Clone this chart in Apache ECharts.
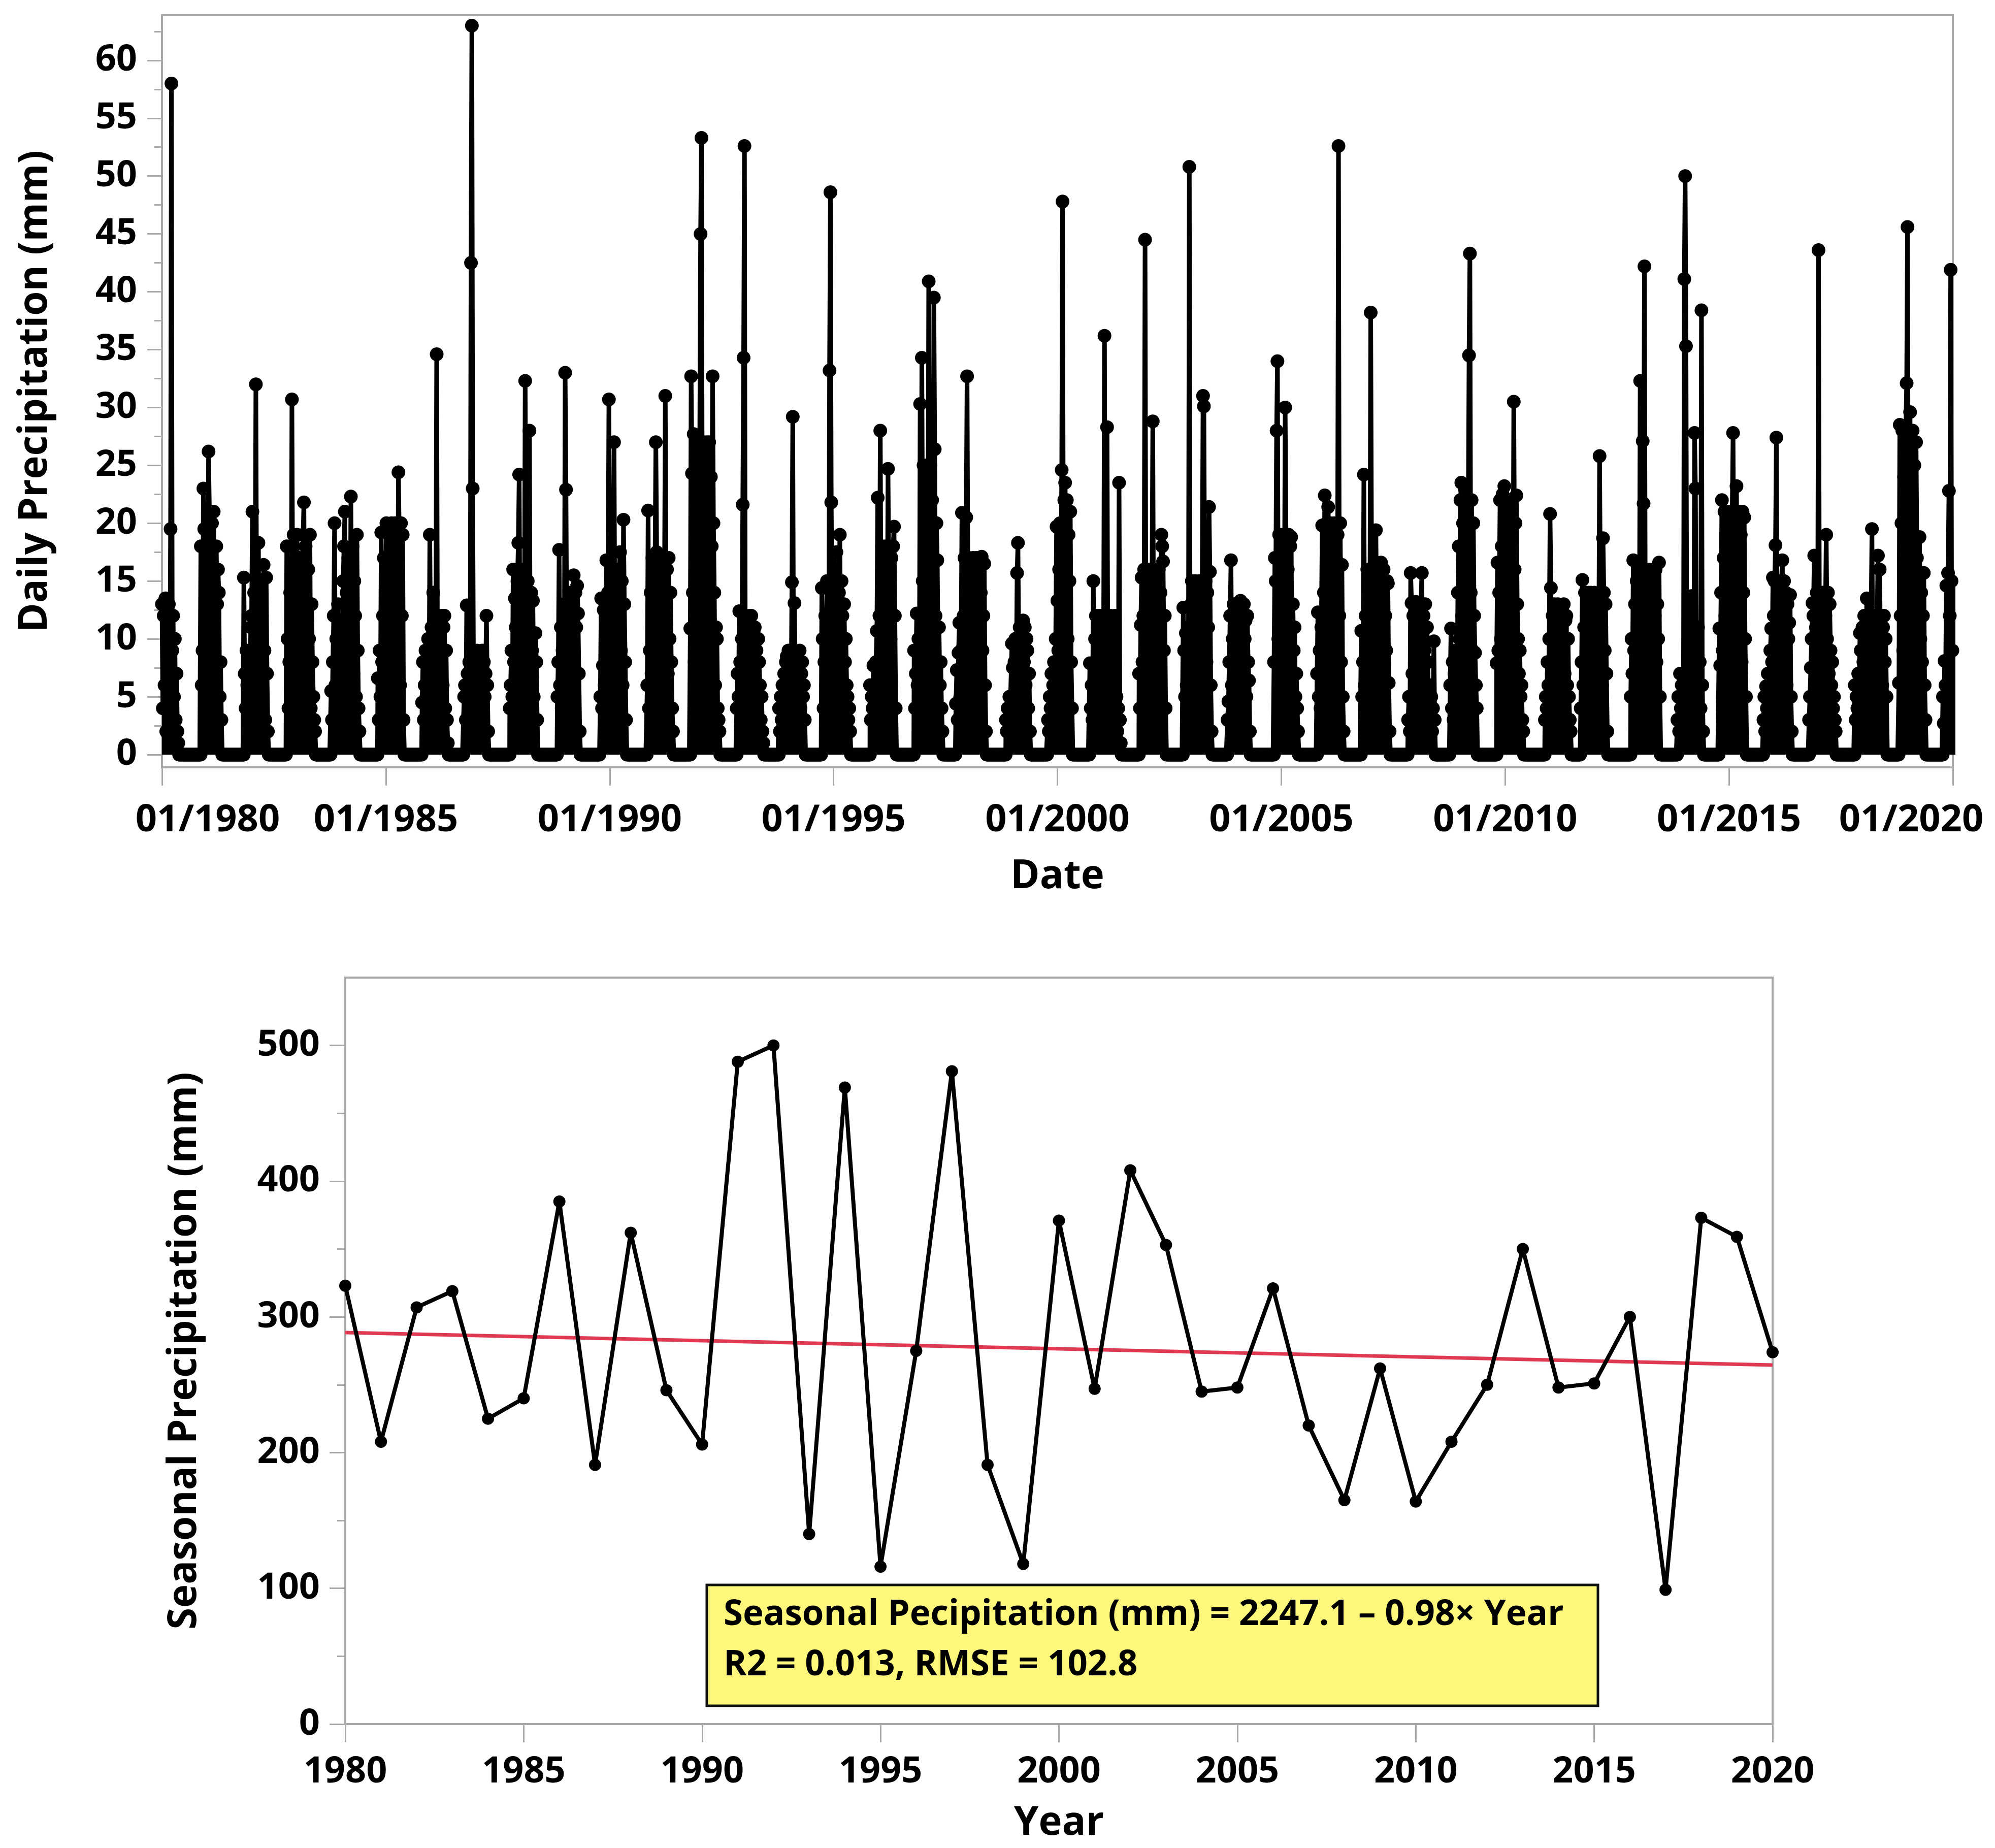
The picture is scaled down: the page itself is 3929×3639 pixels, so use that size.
<!DOCTYPE html>
<html>
<head>
<meta charset="utf-8">
<title>Daily and seasonal precipitation</title>
<script src="https://cdn.jsdelivr.net/npm/echarts@6.0.0/dist/echarts.min.js"></script>
<style>
  html, body { margin: 0; padding: 0; background: #fff; }
  #main { width: 3929px; height: 3639px; }
</style>
</head>
<body>
<div id="main"></div>
<script>
// top panel: one list per wet season, values (mm) every 7 days from the season start
const seasonStart = [
  '1980-01-01', '1980-11-13', '1981-10-30', '1982-10-15', '1983-10-12', '1984-10-27',
  '1985-10-23', '1986-10-01', '1987-10-08', '1988-10-31', '1989-10-16', '1990-11-03',
  '1991-10-20', '1992-11-02', '1993-10-13', '1994-09-27', '1995-10-25', '1996-10-19',
  '1997-09-25', '1998-11-07', '1999-10-16', '2000-09-22', '2001-10-28', '2002-10-24',
  '2003-10-20', '2004-11-02', '2005-10-19', '2006-10-15', '2007-11-01', '2008-10-09',
  '2009-10-23', '2010-11-21', '2011-09-09', '2012-10-21', '2013-11-06', '2014-10-14',
  '2015-10-09', '2016-10-15', '2017-10-23', '2018-10-18', '2019-10-12'
]
const seasonRain = [
  [13, 4, 12, 6, 13.5, 2, 11, 8, 13, 3, 19.5, 58, 9, 12, 5, 10, 3, 7, 2, 1],
  [18, 6, 9, 23, 19.5, 8, 15, 4, 12, 26.2, 21, 3, 14, 20, 7, 21, 10, 2, 18, 13, 16, 14, 5, 8, 3],
  [15.3, 7, 4, 9, 6, 3, 8, 5, 11, 12, 21, 6, 14, 9, 32, 10, 13, 18.3, 4, 15, 8, 12, 5, 16.4, 9, 3, 15.3, 7, 2],
  [18, 10, 4, 8, 14, 6, 30.7, 12, 19, 5, 16, 9, 19, 13, 7, 17, 11, 3, 15, 19, 21.8, 8, 18, 12, 6, 16, 10, 19, 4, 13, 8, 5, 3, 2],
  [5.5, 3, 8, 12, 20, 6, 10, 4, 13, 7, 11, 5, 9, 9.5, 15, 18, 21, 4, 14, 8, 17, 11, 6, 22.3, 10, 18, 7, 15, 12, 5, 19, 9, 4, 2],
  [6.6, 3, 9, 5, 19.2, 8, 12, 17, 4, 14, 20, 9, 16, 7, 19, 11, 20, 5, 15, 13, 20, 8, 18, 10, 24.4, 19, 6, 20, 12, 19, 3],
  [4.5, 8, 3, 6, 9, 5, 7, 10, 4, 19, 8, 11, 6, 14, 9, 3, 11, 34.6, 7, 10, 5, 11, 8, 12, 6, 11, 12, 4, 9, 3, 1],
  [5, 6, 3, 12.9, 7, 4, 8, 5, 42.5, 63, 23, 6, 8, 3, 7, 9, 5, 8, 2, 7, 6, 9, 4, 8, 5, 7, 12, 6, 2],
  [4, 6, 9, 5, 16, 8, 13.5, 11, 6, 15, 18.3, 24.2, 9, 14, 12, 7, 16, 10, 32.3, 13, 8, 15, 11, 28, 6, 14, 9, 13.3, 5, 8, 10.5, 8, 3],
  [5, 8, 17.7, 6, 11, 4, 9, 13, 7, 33, 22.9, 8, 12, 5, 14, 10, 6, 13, 9, 15.5, 7, 14, 11, 14.6, 12.2, 7, 2],
  [5, 13.5, 4, 7.7, 12.5, 6, 9, 16.8, 11, 14, 30.7, 8, 16, 12, 5, 15, 27, 10, 16, 7, 14, 12, 16, 17.5, 9, 15, 6, 20.3, 13, 8, 3],
  [6, 21.1, 4, 9, 14, 7, 17, 10, 5, 16, 27, 17.5, 8, 13, 17, 6, 15, 11, 17, 9, 14, 31, 12, 16, 7, 17, 10, 14, 8, 4, 2],
  [10.9, 32.7, 24.3, 14, 27.7, 8, 23, 15, 26, 11, 19, 27, 45, 53.3, 20, 27, 9, 25, 16, 27, 12, 22, 27, 7, 24, 18, 32.7, 20, 14, 6, 11, 10, 4, 3, 2],
  [4, 7, 5, 12.4, 8, 3, 10, 21.6, 34.3, 52.6, 6, 11, 9, 4, 10, 12, 7, 12, 5, 9, 10.8, 11, 6, 9, 4, 10, 8, 6, 3, 5, 2, 1],
  [4, 2, 5, 3, 6, 4, 7, 5, 8, 8.5, 3, 9, 6, 8, 4, 14.9, 29.2, 6, 13.1, 7, 8, 5, 8, 6, 9, 4, 7, 8, 5, 6, 3],
  [14.4, 10, 4, 8, 12, 6, 15, 9, 5, 33.2, 48.6, 21.8, 11, 15, 7, 13, 10, 17.5, 15, 6, 14, 19, 9, 15, 12, 4, 13, 8, 10, 6, 5, 3, 4, 2],
  [6, 3, 5, 4, 7.7, 6, 3, 8, 10.7, 22.2, 7, 12, 28, 9, 18, 11, 16, 6, 18, 13, 8, 24.7, 15, 18, 10, 17, 12, 18, 19.7, 12, 4],
  [9, 4, 7, 12.2, 6, 10, 5, 30.3, 12, 34.3, 15, 25, 8, 20, 13, 25, 11, 40.9, 18, 25, 9, 22, 14, 39.5, 26.4, 12, 20, 16.8, 8, 11, 6, 8, 4, 2],
  [4.4, 7.3, 3, 8.8, 11.4, 5, 9, 20.9, 6, 12, 17, 8, 20.5, 32.7, 14, 17, 9, 16, 12, 6, 17, 11, 15, 8, 17, 13, 5, 16, 10, 14, 17.1, 9, 12, 16.5, 6, 2],
  [3, 2, 4, 3, 5, 4, 4, 9.6, 7.5, 5, 8, 10, 6, 15.7, 18.3, 9, 11, 7, 10, 5, 11.6, 8, 11, 6, 10, 9, 4, 7, 2],
  [3, 2, 5, 4, 7, 3, 6, 8, 5, 10, 19.7, 13.3, 9, 16, 20, 12, 24.6, 47.8, 14, 22, 23.5, 17, 22, 10, 19, 15, 21, 8, 4],
  [7.9, 4, 6, 3, 15, 5, 10, 12, 6, 11, 8, 12, 4, 9, 12, 7, 11, 36.2, 9, 12, 28.3, 6, 11, 8, 12, 5, 10, 4, 7, 12, 3, 5, 2, 4, 23.5, 3, 1],
  [7, 4, 11.2, 15.3, 8, 12, 16, 44.5, 10, 14, 6, 16, 11, 15, 7, 13, 28.8, 9, 16, 12, 5, 15, 10, 16, 8, 14, 19, 18, 16.7, 9, 12, 4],
  [12.7, 9, 5, 10.5, 6, 8, 11, 50.8, 7, 13, 15, 6, 12, 9, 15, 4, 14, 11, 8, 15, 10, 6, 14, 31, 30.1, 12, 15, 8, 14, 11, 21.4, 15.8, 6, 2],
  [3, 4.6, 8, 12, 16.8, 6, 10, 13, 5, 11, 13, 8, 12, 6, 13, 13.3, 9.6, 12, 7, 13, 10, 11.6, 5, 12, 8, 6.4, 2],
  [8, 17, 15, 28, 34, 10, 19, 6, 14, 19, 9, 17, 12, 30, 19, 8, 16, 19, 11, 18, 18.8, 7, 13, 9, 11, 5, 7, 4, 2],
  [7, 12.3, 5, 9, 4, 11, 19.8, 8, 14, 22.4, 12, 20, 9, 21.4, 15, 7, 20, 11, 18, 6, 20, 13, 17, 9, 19, 52.6, 12, 20, 8, 16.4, 5, 2],
  [10.7, 5, 8, 24.2, 6, 12, 9, 16, 4, 14, 11, 38.2, 16, 8, 13, 16, 6, 19.4, 12, 15, 9, 16, 7, 16.6, 13, 10, 16, 5, 12, 9, 15, 14.8, 6.2, 2],
  [3, 5, 2, 15.7, 13.1, 7, 12, 5, 10, 13.2, 8, 12, 4, 11, 9, 13, 15.7, 6, 12, 9, 13, 5, 11, 8, 4, 6, 3, 5, 2, 4, 9.8, 3],
  [6, 10.9, 4, 8, 3, 7, 5, 9, 6, 14, 18, 10, 22, 23.5, 12, 20, 8, 23, 16, 22, 11, 19, 34.5, 43.3, 14, 22, 9, 20, 12, 8.8, 6, 4],
  [7.9, 16.6, 9, 14, 22, 10, 18, 22.5, 12, 23.2, 15, 8, 21, 13, 22, 9, 18, 14, 22, 11, 30.5, 16, 20, 22.4, 13, 10, 7, 9, 5, 6, 3, 2],
  [3, 5, 4, 8, 6, 10, 20.8, 14.4, 7, 12, 9, 13, 5, 11, 8, 13, 6, 12, 10, 4, 12.7, 9, 13, 7, 11.6, 12, 6, 10, 5, 3, 2],
  [4, 8, 15.1, 6, 11, 14, 7, 12, 9, 14, 5, 13, 14, 8, 12, 6, 14, 10, 13, 7, 12, 9, 25.8, 14, 11, 6, 18.7, 14, 9, 13, 7, 2],
  [5, 10, 7, 16.8, 9, 13, 6, 15, 11, 16, 8, 32.3, 14, 10, 27.1, 21.7, 42.2, 12, 16, 7, 14, 11, 16, 13.5, 9, 15, 6, 14, 12, 16, 8, 13, 10, 16.6, 5],
  [3, 5, 2, 7, 4, 6, 3, 5, 41.1, 50, 35.3, 6, 4, 7, 11.3, 5, 13.7, 6, 8, 4, 27.8, 23, 7, 5, 11, 6, 8, 4, 38.4, 6, 2],
  [10.9, 7.7, 14, 22, 9, 17, 21, 12, 19, 8, 21, 15, 10, 20, 13, 21, 27.8, 11, 18, 21, 23.2, 9, 16, 21, 12, 19, 8, 21, 14, 20.5, 10, 5],
  [3, 5, 2, 5.9, 4, 7, 3, 6, 9, 10.9, 8, 15.3, 12, 15, 18.1, 27.4, 11, 15, 9, 14, 12, 15, 16.8, 8, 15, 11, 14, 6, 13, 10, 11.4, 13.8, 5, 2],
  [3, 5, 7.5, 10, 13.1, 12, 17.2, 6, 11, 14, 9, 43.6, 13, 7, 14, 11, 14, 8, 13, 12, 19, 10, 14, 7, 13, 9, 6, 8, 4, 5, 3, 2],
  [6, 3, 5, 4, 7, 5, 10.5, 9, 6, 11, 8, 12, 7, 10, 13.5, 9, 12, 6, 11, 12, 19.5, 8, 12, 10, 12, 7, 11, 17.2, 12, 16, 9, 12, 6, 11, 12, 8, 10, 5],
  [6.2, 28.5, 12, 20, 28, 9, 24, 15, 28, 32.1, 45.6, 18, 26, 29.6, 11, 22, 28, 14, 25, 9, 27, 17, 12, 15, 18.8, 10, 14, 8, 12, 15.7, 6, 3],
  [5, 2.7, 8.1, 6, 14.6, 5, 15.7, 22.8, 12, 41.9, 15, 9, 13, 15, 8, 12, 6]
]

// bottom panel
const years = [1980, 1981, 1982, 1983, 1984, 1985, 1986, 1987, 1988, 1989, 1990,
  1991, 1992, 1993, 1994, 1995, 1996, 1997, 1998, 1999, 2000,
  2001, 2002, 2003, 2004, 2005, 2006, 2007, 2008, 2009, 2010,
  2011, 2012, 2013, 2014, 2015, 2016, 2017, 2018, 2019, 2020]
const seasonalPrecip = [323, 208, 307, 319, 225, 240, 385, 191, 362, 246, 206,
  488, 500, 140, 469, 116, 275, 481, 191, 118, 371,
  247, 408, 353, 245, 248, 321, 220, 165, 262, 164,
  208, 250, 350, 248, 251, 300, 99, 373, 359, 274]
const trendYears = [1980, 2020]
const trendValues = [288.5, 264.5]

// ticks
const dateTickYears = [1980, 1985, 1990, 1995, 2000, 2005, 2010, 2015, 2020]
const dailyTicks = [0, 5, 10, 15, 20, 25, 30, 35, 40, 45, 50, 55, 60]
const dailyMinorTicks = [2.5, 7.5, 12.5, 17.5, 22.5, 27.5, 32.5, 37.5, 42.5, 47.5, 52.5, 57.5, 62.5]
const seasonalTicks = [0, 100, 200, 300, 400, 500]
const seasonalMinorTicks = [50, 150, 250, 350, 450]

const boxLine1 = 'Seasonal Pecipitation (mm) = 2247.1 \u2013 0.98\u00d7 Year'
const boxLine2 = 'R2 = 0.013, RMSE = 102.8'

const FONT = 'Open Sans'
const GRAY = '#a9a9a9'
const DAY = 86400000
const STEP = 7 * DAY

const toUTC = (s) => {
  const [y, m, d] = s.split('-').map(Number)
  return Date.UTC(y, m - 1, d)
}

// season values, and the dry days in between sit on 0
const dailyPoints = []
seasonStart.forEach((s, k) => {
  const t0 = toUTC(s)
  seasonRain[k].forEach((v, i) => dailyPoints.push([t0 + i * STEP, v]))
  const tEnd = t0 + seasonRain[k].length * STEP
  const tNext = k + 1 < seasonStart.length ? toUTC(seasonStart[k + 1]) : tEnd
  for (let t = tEnd; t < tNext; t += STEP) {
    dailyPoints.push([t, 0])
  }
})

const seasonalPoints = years.map((y, i) => [y, seasonalPrecip[i]])
const trendPoints = trendYears.map((y, i) => [y, trendValues[i]])
const dateTicks = dateTickYears.map(y => Date.UTC(y, 0, 1))

const labelFont = { fontFamily: FONT, fontWeight: 'bold', fontSize: 72, color: '#000' }
const nameFont = { fontFamily: FONT, fontWeight: 'bold', fontSize: 78, color: '#000' }

const chart = echarts.init(document.getElementById('main'))

const option = {
  animation: false,
  backgroundColor: '#fff',
  grid: [
    { left: 319, top: 30, width: 3527, height: 1481, show: true, borderColor: GRAY, borderWidth: 4 },
    { left: 680, top: 1925, width: 2811, height: 1470, show: true, borderColor: GRAY, borderWidth: 4 }
  ],
  xAxis: [
    {
      gridIndex: 0,
      type: 'value',
      min: dateTicks[0],
      max: dateTicks[dateTicks.length - 1],
      name: 'Date',
      nameLocation: 'middle',
      nameGap: 177,
      nameTextStyle: nameFont,
      axisLine: { show: true, onZero: false, lineStyle: { color: GRAY, width: 4 } },
      axisTick: { show: true, customValues: dateTicks, length: 36, lineStyle: { color: GRAY, width: 3 } },
      splitLine: { show: false },
      axisLabel: {
        customValues: dateTicks,
        margin: 68,
        ...labelFont,
        fontSize: 74,
        formatter: (v) => {
          const y = new Date(v).getUTCFullYear()
          const s = '01/' + y
          if (y === 1980) return '{first|' + s + '}'
          if (y === 2020) return '{last|' + s + '}'
          return s
        },
        rich: {
          first: { ...labelFont, fontSize: 74, padding: [0, 0, 0, 180] },
          last: { ...labelFont, fontSize: 74, padding: [0, 164, 0, 0] }
        }
      }
    },
    {
      gridIndex: 1,
      type: 'value',
      min: 1980,
      max: 2020,
      interval: 5,
      name: 'Year',
      nameLocation: 'middle',
      nameGap: 157,
      nameTextStyle: nameFont,
      axisLine: { show: true, onZero: false, lineStyle: { color: GRAY, width: 4 } },
      axisTick: { show: true, length: 36, lineStyle: { color: GRAY, width: 3 } },
      splitLine: { show: false },
      axisLabel: { margin: 58, ...labelFont, formatter: (v) => String(v) }
    }
  ],
  yAxis: [
    {
      gridIndex: 0,
      type: 'value',
      position: 'left',
      min: -1.1,
      max: 63.9,
      name: 'Daily Precipitation (mm)',
      nameLocation: 'middle',
      nameGap: 210,
      nameTextStyle: nameFont,
      axisLine: { show: true, lineStyle: { color: GRAY, width: 4 } },
      axisTick: { show: true, customValues: dailyTicks, length: 29, lineStyle: { color: GRAY, width: 3 } },
      splitLine: { show: false },
      axisLabel: { customValues: dailyTicks, margin: 49, ...labelFont }
    },
    {
      // minor ticks only
      gridIndex: 0,
      type: 'value',
      position: 'left',
      min: -1.1,
      max: 63.9,
      axisLine: { show: false },
      axisTick: { show: true, customValues: dailyMinorTicks, length: 15, lineStyle: { color: GRAY, width: 3 } },
      splitLine: { show: false },
      axisLabel: { show: false }
    },
    {
      gridIndex: 1,
      type: 'value',
      position: 'left',
      min: 0,
      max: 550,
      name: 'Seasonal Precipitation (mm)',
      nameLocation: 'middle',
      nameGap: 277,
      nameTextStyle: nameFont,
      axisLine: { show: true, lineStyle: { color: GRAY, width: 4 } },
      axisTick: { show: true, customValues: seasonalTicks, length: 31, lineStyle: { color: GRAY, width: 3 } },
      splitLine: { show: false },
      axisLabel: { customValues: seasonalTicks, margin: 50, ...labelFont }
    },
    {
      gridIndex: 1,
      type: 'value',
      position: 'left',
      min: 0,
      max: 550,
      axisLine: { show: false },
      axisTick: { show: true, customValues: seasonalMinorTicks, length: 16, lineStyle: { color: GRAY, width: 3 } },
      splitLine: { show: false },
      axisLabel: { show: false }
    }
  ],
  series: [
    {
      // daily values are so dense that the wet seasons read as solid black
      type: 'line',
      xAxisIndex: 0,
      yAxisIndex: 0,
      data: dailyPoints,
      symbol: 'circle',
      symbolSize: 27,
      showSymbol: true,
      showAllSymbol: true,
      silent: true,
      lineStyle: { color: '#000', width: 9 },
      itemStyle: { color: '#000' },
      areaStyle: { color: '#000', opacity: 1 }
    },
    {
      type: 'line',
      xAxisIndex: 1,
      yAxisIndex: 2,
      data: trendPoints,
      symbol: 'none',
      silent: true,
      lineStyle: { color: '#df3a52', width: 7 }
    },
    {
      type: 'line',
      xAxisIndex: 1,
      yAxisIndex: 2,
      data: seasonalPoints,
      symbol: 'circle',
      symbolSize: 24,
      silent: true,
      lineStyle: { color: '#000', width: 8 },
      itemStyle: { color: '#000' }
    }
  ],
  graphic: [
    {
      type: 'rect',
      z: 100,
      shape: { x: 1392, y: 3121, width: 1755, height: 238 },
      style: { fill: '#fdf87c', stroke: '#111', lineWidth: 5 }
    },
    {
      type: 'text',
      z: 101,
      x: 1425,
      y: 3180,
      style: { text: boxLine1, fontFamily: FONT, fontWeight: 'bold', fontSize: 69, fill: '#000', verticalAlign: 'middle' }
    },
    {
      type: 'text',
      z: 101,
      x: 1425,
      y: 3279,
      style: { text: boxLine2, fontFamily: FONT, fontWeight: 'bold', fontSize: 69, fill: '#000', verticalAlign: 'middle' }
    }
  ]
}

chart.setOption(option)
</script>
</body>
</html>
